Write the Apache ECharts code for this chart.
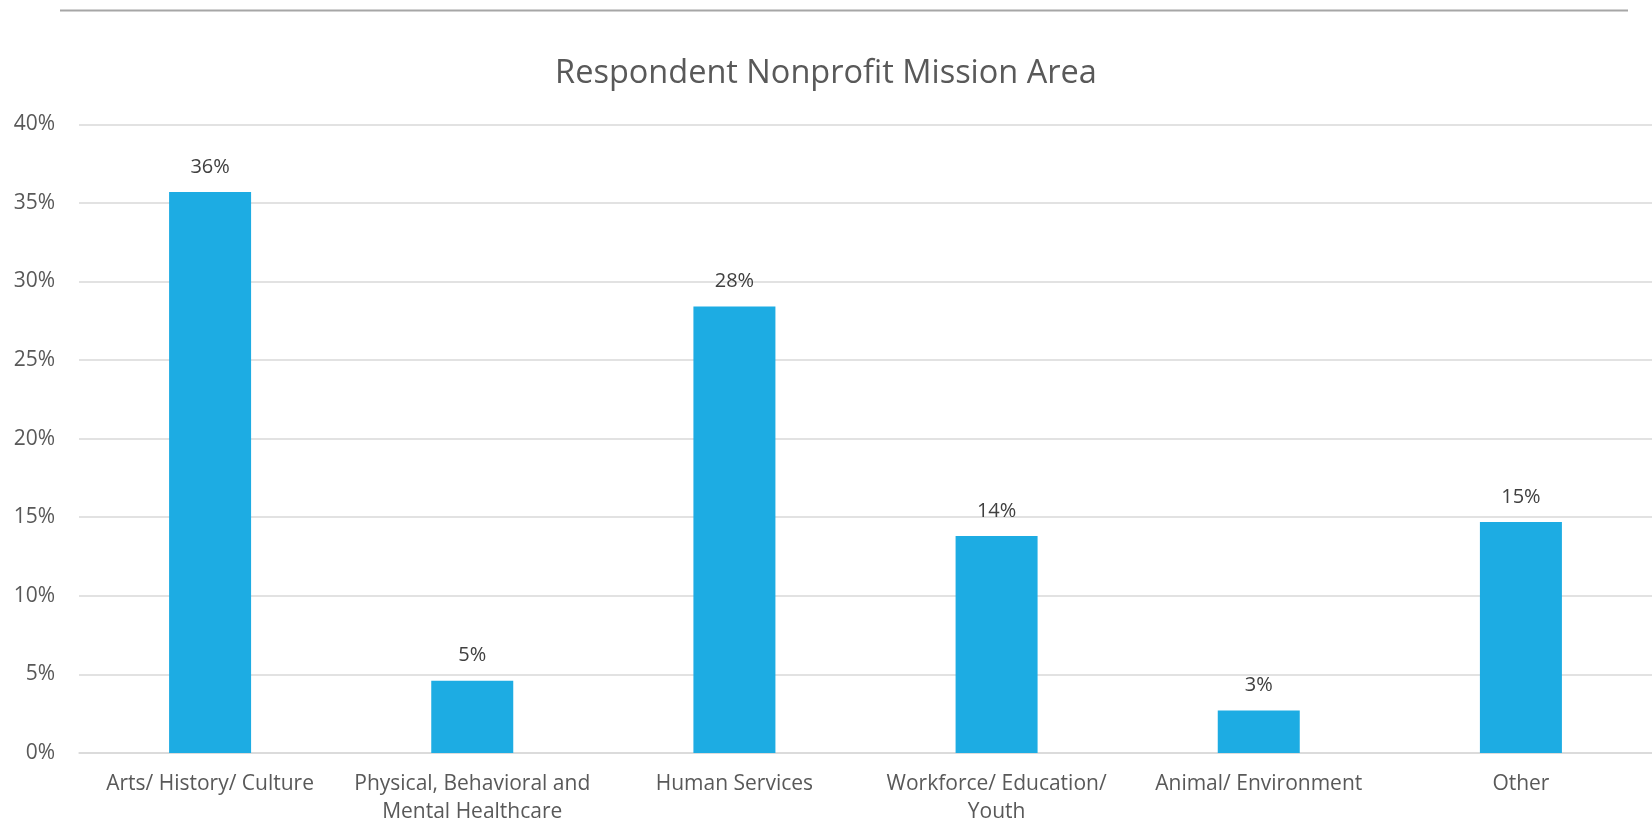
<!DOCTYPE html>
<html>
<head>
<meta charset="utf-8">
<script src="https://cdn.jsdelivr.net/npm/echarts@6/dist/echarts.min.js"></script>
<style>html,body{margin:0;padding:0;background:#fff;}#c{width:1652px;height:826px;}</style>
</head>
<body>
<div id="c"></div>
<script>
const categories = ["Arts/ History/ Culture", "Physical, Behavioral and\nMental Healthcare", "Human Services", "Workforce/ Education/\nYouth", "Animal/ Environment", "Other"];
const values = [35.7, 4.6, 28.4, 13.8, 2.7, 14.7];
const yTicks = [0, 5, 10, 15, 20, 25, 30, 35, 40];
const FONT = "Open Sans";
const chart = echarts.init(document.getElementById('c'));
chart.setOption({
  animation: false,
  textStyle: { fontFamily: FONT },
  title: {
    text: "Respondent Nonprofit Mission Area",
    left: 'center', top: 52,
    textStyle: { fontFamily: FONT, fontSize: 32.5, fontWeight: 'normal', color: '#595959' }
  },
  graphic: [{
    type: 'line', shape: { x1: 60, y1: 10.5, x2: 1628, y2: 10.5 },
    style: { stroke: '#A6A6A6', lineWidth: 2 }
  }],
  grid: { left: 79, right: 0, top: 124.3, bottom: 62, containLabel: false },
  xAxis: {
    type: 'category', data: categories,
    axisLine: { show: true, lineStyle: { color: '#D9D9D9', width: 1.5 } },
    axisTick: { show: false },
    axisLabel: { fontFamily: FONT, fontSize: 21, color: '#595959', margin: 17, lineHeight: 28, interval: 0 }
  },
  yAxis: {
    type: 'value', min: 0, max: 40, interval: 5,
    axisLine: { show: false }, axisTick: { show: false },
    splitLine: { lineStyle: { color: '#D9D9D9', width: 1.5 } },
    axisLabel: { fontFamily: FONT, fontSize: 21, color: '#595959', margin: 24,
      formatter: v => yTicks.includes(v) ? v + '%' : '' }
  },
  series: [{
    type: 'bar', data: values, barWidth: 82,
    itemStyle: { color: '#1DACE3' },
    label: { show: true, position: 'top', distance: 15, fontFamily: FONT, fontSize: 20, color: '#404040',
      formatter: p => Math.round(p.value) + '%' }
  }]
});
</script>
</body>
</html>
